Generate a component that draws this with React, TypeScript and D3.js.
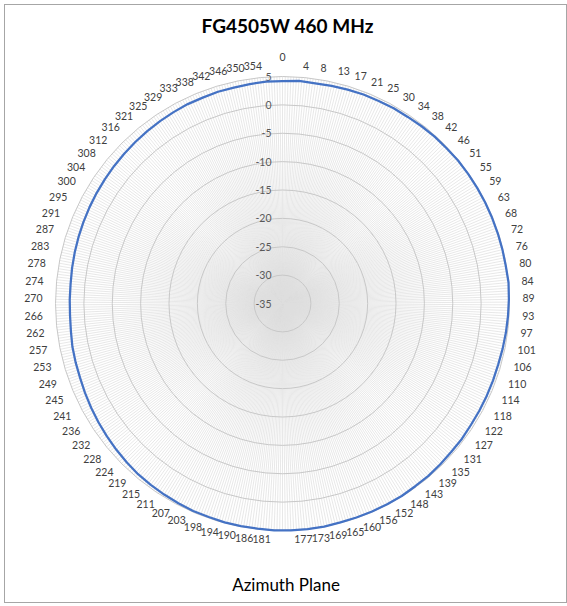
import React from "react";
import * as d3 from "d3";

const TITLE = "FG4505W 460 MHz";
const AXIS_TITLE = "Azimuth Plane";

const CATEGORIES: string[] = [
  "0","4","8","13","17","21","25","30","34","38","42","46","51","55","59","63","68","72","76","80","84",
  "89","93","97","101","106","110","114","118","122","127","131","135","139","143","148","152","156","160","165",
  "169","173","177","181","186","190","194","198","203","207","211","215","219","224","228","232","236","241",
  "245","249","253","257","262","266","270","274","278","283","287","291","295","300","304","308","312","316",
  "321","325","329","333","338","342","346","350","354",
];

const GAIN: number[] = [
  4.2, 4.35, 4.2, 4.3, 4.4, 4.5, 4.5, 4.6, 4.6, 4.7, 4.8, 4.8, 4.9, 4.9, 4.9, 4.9, 4.9, 4.9, 4.9, 4.9, 5.0,
  4.9, 4.8, 4.7, 4.6, 4.5, 4.5, 4.5, 4.5, 4.5, 4.6, 4.6, 4.7, 4.8, 4.8, 4.9, 4.9, 4.9, 4.9, 4.9,
  5.0, 5.0, 5.0, 5.0, 4.9, 4.9, 4.9, 4.8, 4.8, 4.7, 4.6, 4.5, 4.4, 4.2, 4.0, 3.8, 3.6, 3.4,
  3.2, 3.0, 2.9, 2.8, 2.6, 2.5, 2.5, 2.5, 2.6, 2.7, 2.8, 2.9, 3.0, 3.1, 3.2, 3.3, 3.4, 3.5,
  3.6, 3.7, 3.8, 3.9, 3.9, 4.0, 4.0, 4.1, 4.2,
];

const TICKS: number[] = [5, 0, -5, -10, -15, -20, -25, -30, -35];

const W = 567;
const H = 606;
const CX = 282.5;
const CY = 303.5;
const R = 227;
const SPOKES_PER_LABEL = 6;

export default function App() {
  const n = CATEGORIES.length;
  const rScale = d3.scaleLinear().domain([-35, 5]).range([0, R]);
  const aScale = d3.scaleLinear().domain([0, n]).range([0, 2 * Math.PI]);
  const nSpokes = n * SPOKES_PER_LABEL;
  const spokeScale = d3.scaleLinear().domain([0, nSpokes]).range([0, 2 * Math.PI]);

  const line = d3
    .lineRadial<number>()
    .angle((_, i) => aScale(i))
    .radius((d) => rScale(d))
    .curve(d3.curveLinearClosed);

  const font = "Lato, 'Open Sans', sans-serif";

  return (
    <svg
      width={W}
      height={H}
      style={{ position: "absolute", left: 0, top: 0, background: "#fff" }}
    >
      <rect x={4.5} y={4.5} width={W - 5} height={H - 3.5 - 4.5} fill="#fff" stroke="#a6a6a6" strokeWidth={1} />
      <text x={287.5} y={33} textAnchor="middle" fontFamily={font} fontWeight="bold" fontSize={19} fill="#000">
        {TITLE}
      </text>
      <g transform={`translate(${CX},${CY})`}>
        {d3.range(nSpokes).map((i) => {
          const a = spokeScale(i);
          return (
            <line
              key={"s" + i}
              x1={0}
              y1={0}
              x2={R * Math.sin(a)}
              y2={-R * Math.cos(a)}
              stroke="#dedede"
              strokeWidth={0.7}
            />
          );
        })}
        {TICKS.filter((t) => t > -35).map((t) => (
          <circle key={"r" + t} r={rScale(t)} fill="none" stroke="#c8c8c8" strokeWidth={1} />
        ))}
        {TICKS.map((t) => (
          <text
            key={"t" + t}
            x={-11}
            y={-rScale(t)}
            dominantBaseline="central"
            textAnchor="end"
            fontFamily={font}
            fontSize={10.5}
            fill="#595959"
          >
            {t}
          </text>
        ))}
        <path d={line(GAIN) || ""} fill="none" stroke="#4472C4" strokeWidth={2.25} strokeLinejoin="round" />
        {CATEGORIES.map((c, i) => {
          const a = aScale(i);
          const s = Math.sin(a);
          const co = Math.cos(a);
          const rho = R + 10;
          const pad = 3;
          let x = rho * s;
          let y = -rho * co - 1;
          let anchor: "start" | "end" | "middle" = "middle";
          if (Math.abs(s) < 1e-6) {
            y = co > 0 ? -rho - 9.5 : rho + 8;
          } else if (s > 0) {
            anchor = "start";
            x += pad;
          } else {
            anchor = "end";
            x -= pad;
          }
          return (
            <text
              key={"c" + i}
              x={x}
              y={y}
              textAnchor={anchor}
              dominantBaseline="central"
              fontFamily={font}
              fontSize={10.5}
              fill="#404040"
            >
              {c}
            </text>
          );
        })}
      </g>
      <text x={286} y={591} textAnchor="middle" fontFamily={font} fontSize={17} fill="#000">
        {AXIS_TITLE}
      </text>
    </svg>
  );
}
